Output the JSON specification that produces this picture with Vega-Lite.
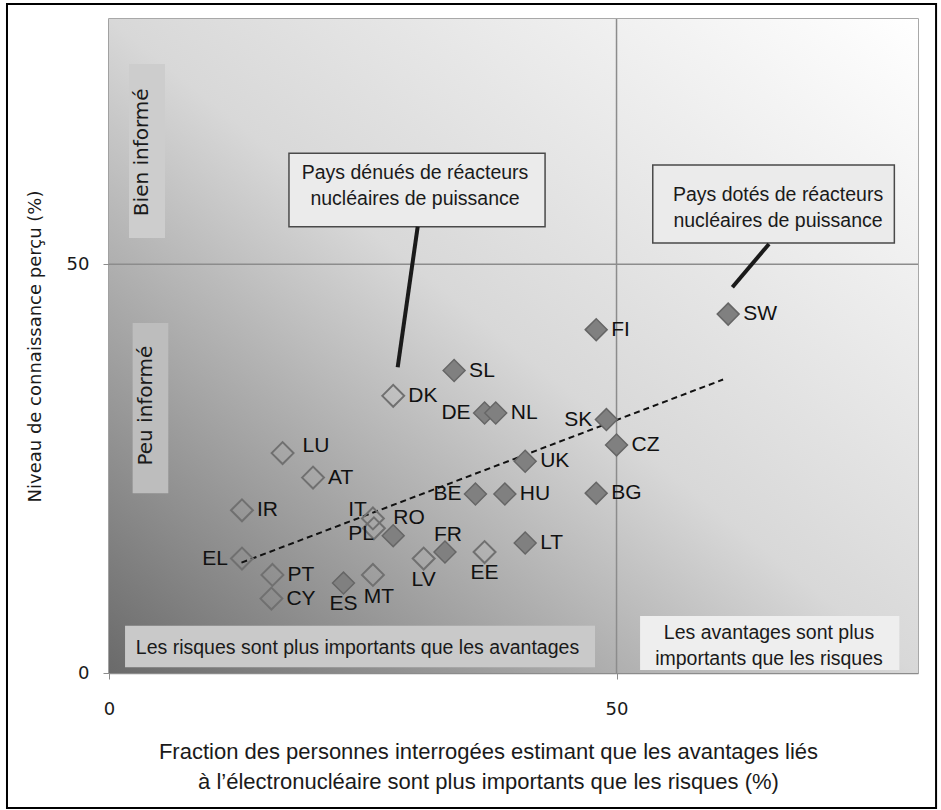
{
  "$schema": "https://vega.github.io/schema/vega-lite/v6.json",
  "width": 809,
  "height": 654,
  "autosize": {"type": "none"},
  "padding": {"left": 109, "top": 19, "right": 23, "bottom": 137},
  "background": "white",
  "config": {
    "view": {"stroke": "#8c8c8c", "strokeWidth": 1.5},
    "axis": {"grid": false, "labelFlush": false}
  },
  "datasets": {
    "countries": [
      {"c": "SL", "x": 34.0, "y": 37.0, "nuc": true},
      {"c": "DK", "x": 28.0, "y": 33.9, "nuc": false},
      {"c": "DE", "x": 37.0, "y": 31.8, "nuc": true},
      {"c": "NL", "x": 38.1, "y": 31.8, "nuc": true},
      {"c": "LU", "x": 17.1, "y": 26.9, "nuc": false},
      {"c": "AT", "x": 20.1, "y": 23.9, "nuc": false},
      {"c": "IR", "x": 13.1, "y": 19.9, "nuc": false},
      {"c": "IT", "x": 26.0, "y": 18.9, "nuc": false},
      {"c": "PL", "x": 26.1, "y": 17.7, "nuc": false},
      {"c": "RO", "x": 28.0, "y": 16.8, "nuc": true},
      {"c": "EL", "x": 13.1, "y": 14.0, "nuc": false},
      {"c": "PT", "x": 16.1, "y": 12.0, "nuc": false},
      {"c": "CY", "x": 16.0, "y": 9.1, "nuc": false},
      {"c": "ES", "x": 23.1, "y": 11.0, "nuc": true},
      {"c": "MT", "x": 26.0, "y": 12.0, "nuc": false},
      {"c": "LV", "x": 31.0, "y": 14.0, "nuc": false},
      {"c": "FR", "x": 33.1, "y": 14.8, "nuc": true},
      {"c": "EE", "x": 37.0, "y": 14.8, "nuc": false},
      {"c": "BE", "x": 36.1, "y": 21.9, "nuc": true},
      {"c": "HU", "x": 39.0, "y": 21.9, "nuc": true},
      {"c": "UK", "x": 41.0, "y": 25.9, "nuc": true},
      {"c": "LT", "x": 41.0, "y": 15.9, "nuc": true},
      {"c": "FI", "x": 48.0, "y": 42.0, "nuc": true},
      {"c": "SK", "x": 49.0, "y": 31.0, "nuc": true},
      {"c": "CZ", "x": 50.0, "y": 27.9, "nuc": true},
      {"c": "BG", "x": 48.0, "y": 22.0, "nuc": true},
      {"c": "SW", "x": 61.0, "y": 43.9, "nuc": true}
    ],
    "boxes": [
      {"id": "bien", "x": 1.97, "x2": 5.52, "y": 74.5, "y2": 53.2},
      {"id": "peu", "x": 2.33, "x2": 5.84, "y": 42.8, "y2": 22.0},
      {"id": "risques", "x": 1.58, "x2": 47.88, "y": 5.79, "y2": 0.71},
      {"id": "avantages", "x": 52.32, "x2": 77.86, "y": 6.97, "y2": 0.37}
    ],
    "callouts": [
      {"id": "sans", "x": 17.73, "x2": 42.96, "y": 63.57, "y2": 54.59},
      {"id": "avec", "x": 53.57, "x2": 77.37, "y": 62.14, "y2": 52.6}
    ],
    "leaders": [
      {"id": "sans", "x": 30.41, "y": 54.59, "x2": 28.44, "y2": 37.39},
      {"id": "avec", "x": 65.02, "y": 52.48, "x2": 61.41, "y2": 47.18}
    ],
    "trend": [
      {"x": 13.05, "y": 13.5},
      {"x": 60.5, "y": 35.9}
    ],
    "vtexts": [
      {"t": "Bien informé", "x": 3.3, "y": 63.7},
      {"t": "Peu informé", "x": 3.65, "y": 32.7}
    ],
    "htexts": [
      {"t": "Les risques sont plus importants que les avantages", "x": 24.48, "y": 3.02}
    ],
    "mtexts": [
      {"t": "Les avantages sont plus\nimportants que les risques", "x": 65.02, "y": 3.27},
      {"t": "Pays dénués de réacteurs\nnucléaires de puissance", "x": 30.15, "y": 59.57},
      {"t": "Pays dotés de réacteurs\nnucléaires de puissance", "x": 65.91, "y": 56.94}
    ]
  },
  "layer": [
    {
      "data": {"values": [{}]},
      "mark": {
        "type": "rect",
        "fill": {
          "gradient": "linear",
          "x1": 0, "y1": 1, "x2": 1, "y2": 0,
          "stops": [
            {"offset": 0, "color": "#6a6a6a"},
            {"offset": 0.5, "color": "#d8d8d8"},
            {"offset": 1, "color": "#ffffff"}
          ]
        }
      },
      "encoding": {
        "x": {
          "datum": 0, "type": "quantitative",
          "scale": {"domain": [0, 79.7], "nice": false, "zero": false},
          "axis": {
            "values": [0, 50],
            "title": ["Fraction des personnes interrogées estimant que les avantages liés", "à l’électronucléaire sont plus importants que les risques (%)"],
            "titleFont": "Liberation Sans", "titleFontSize": 22, "titleFontWeight": "normal",
            "titleColor": "#1a1a1a", "titleLineHeight": 30, "titlePadding": 23,
            "titleX": 379,
            "labelFont": "DejaVu Sans", "labelFontSize": 18, "labelColor": "#1a1a1a",
            "labelPadding": 21, "tickSize": 6, "tickColor": "#8c8c8c",
            "domainColor": "#8c8c8c", "domainWidth": 1.5
          }
        },
        "x2": {"datum": 79.7},
        "y": {
          "datum": 0, "type": "quantitative",
          "scale": {"domain": [0, 80], "nice": false, "zero": false},
          "axis": {
            "values": [0, 50],
            "title": "Niveau de connaissance perçu (%)",
            "titleFont": "DejaVu Sans", "titleFontSize": 18, "titleFontWeight": "normal",
            "titleColor": "#1a1a1a", "titlePadding": 22,
            "labelFont": "DejaVu Sans", "labelFontSize": 18, "labelColor": "#1a1a1a",
            "labelPadding": 14, "tickSize": 6, "tickColor": "#8c8c8c",
            "domainColor": "#8c8c8c", "domainWidth": 1.5
          }
        },
        "y2": {"datum": 80}
      }
    },
    {
      "data": {"values": [{"x": 50}]},
      "mark": {"type": "rule", "color": "#8c8c8c", "strokeWidth": 1.5},
      "encoding": {"x": {"field": "x", "type": "quantitative"}}
    },
    {
      "data": {"values": [{"y": 50}]},
      "mark": {"type": "rule", "color": "#8c8c8c", "strokeWidth": 1.5},
      "encoding": {"y": {"field": "y", "type": "quantitative"}}
    },
    {
      "data": {"name": "boxes"},
      "mark": {"type": "rect"},
      "encoding": {
        "x": {"field": "x", "type": "quantitative"},
        "x2": {"field": "x2"},
        "y": {"field": "y", "type": "quantitative"},
        "y2": {"field": "y2"},
        "fill": {
          "field": "id", "type": "nominal", "legend": null,
          "scale": {"domain": ["bien", "peu", "risques", "avantages"], "range": ["#cdcdcd", "#bdbdbd", "#c9c9c9", "#eeeeee"]}
        }
      }
    },
    {
      "data": {"name": "callouts"},
      "mark": {"type": "rect", "fill": "#ebebeb", "stroke": "#4a4a4a", "strokeWidth": 1.5},
      "encoding": {
        "x": {"field": "x", "type": "quantitative"},
        "x2": {"field": "x2"},
        "y": {"field": "y", "type": "quantitative"},
        "y2": {"field": "y2"}
      }
    },
    {
      "data": {"name": "leaders"},
      "mark": {"type": "rule", "color": "#1a1a1a", "strokeWidth": 4},
      "encoding": {
        "x": {"field": "x", "type": "quantitative"},
        "x2": {"field": "x2"},
        "y": {"field": "y", "type": "quantitative"},
        "y2": {"field": "y2"}
      }
    },
    {
      "data": {"name": "trend"},
      "mark": {"type": "line", "color": "#111111", "strokeWidth": 2, "strokeDash": [6, 4]},
      "encoding": {
        "x": {"field": "x", "type": "quantitative"},
        "y": {"field": "y", "type": "quantitative"}
      }
    },
    {
      "data": {"name": "countries"},
      "transform": [{"filter": "!datum.nuc"}],
      "mark": {"type": "point", "shape": "diamond", "size": 480, "filled": false, "stroke": "#707070", "strokeWidth": 2, "opacity": 1},
      "encoding": {
        "x": {"field": "x", "type": "quantitative"},
        "y": {"field": "y", "type": "quantitative"}
      }
    },
    {
      "data": {"name": "countries"},
      "transform": [{"filter": "datum.nuc"}],
      "mark": {"type": "point", "shape": "diamond", "size": 480, "filled": true, "fill": "#808080", "stroke": "#666666", "strokeWidth": 1.5, "opacity": 1},
      "encoding": {
        "x": {"field": "x", "type": "quantitative"},
        "y": {"field": "y", "type": "quantitative"}
      }
    },
    {
      "data": {"name": "countries"},
      "transform": [{"filter": {"field": "c", "oneOf": ["SL", "DK", "NL", "AT", "IR", "PT", "CY", "HU", "UK", "LT", "FI", "CZ", "BG", "SW"]}}],
      "mark": {"type": "text", "font": "Liberation Sans", "fontSize": 21, "color": "#111111", "align": "left", "baseline": "middle", "dx": 15},
      "encoding": {
        "x": {"field": "x", "type": "quantitative"},
        "y": {"field": "y", "type": "quantitative"},
        "text": {"field": "c"}
      }
    },
    {
      "data": {"name": "countries"},
      "transform": [{"filter": {"field": "c", "oneOf": ["DE", "EL", "BE", "SK"]}}],
      "mark": {"type": "text", "font": "Liberation Sans", "fontSize": 21, "color": "#111111", "align": "right", "baseline": "middle", "dx": -14},
      "encoding": {
        "x": {"field": "x", "type": "quantitative"},
        "y": {"field": "y", "type": "quantitative"},
        "text": {"field": "c"}
      }
    },
    {
      "data": {"name": "countries"},
      "transform": [{"filter": {"field": "c", "oneOf": ["ES", "LV", "EE"]}}],
      "mark": {"type": "text", "font": "Liberation Sans", "fontSize": 21, "color": "#111111", "align": "center", "baseline": "middle", "dy": 21},
      "encoding": {
        "x": {"field": "x", "type": "quantitative"},
        "y": {"field": "y", "type": "quantitative"},
        "text": {"field": "c"}
      }
    },
    {
      "data": {"name": "countries"},
      "transform": [{"filter": "datum.c == 'MT'"}],
      "mark": {"type": "text", "font": "Liberation Sans", "fontSize": 21, "color": "#111111", "align": "center", "baseline": "middle", "dx": 6, "dy": 22},
      "encoding": {
        "x": {"field": "x", "type": "quantitative"},
        "y": {"field": "y", "type": "quantitative"},
        "text": {"field": "c"}
      }
    },
    {
      "data": {"name": "countries"},
      "transform": [{"filter": "datum.c == 'FR'"}],
      "mark": {"type": "text", "font": "Liberation Sans", "fontSize": 21, "color": "#111111", "align": "center", "baseline": "middle", "dx": 3, "dy": -17},
      "encoding": {
        "x": {"field": "x", "type": "quantitative"},
        "y": {"field": "y", "type": "quantitative"},
        "text": {"field": "c"}
      }
    },
    {
      "data": {"name": "countries"},
      "transform": [{"filter": "datum.c == 'RO'"}],
      "mark": {"type": "text", "font": "Liberation Sans", "fontSize": 21, "color": "#111111", "align": "left", "baseline": "middle", "dx": 0, "dy": -18},
      "encoding": {
        "x": {"field": "x", "type": "quantitative"},
        "y": {"field": "y", "type": "quantitative"},
        "text": {"field": "c"}
      }
    },
    {
      "data": {"name": "countries"},
      "transform": [{"filter": "datum.c == 'IT'"}],
      "mark": {"type": "text", "font": "Liberation Sans", "fontSize": 21, "color": "#111111", "align": "right", "baseline": "middle", "dx": -6, "dy": -8},
      "encoding": {
        "x": {"field": "x", "type": "quantitative"},
        "y": {"field": "y", "type": "quantitative"},
        "text": {"field": "c"}
      }
    },
    {
      "data": {"name": "countries"},
      "transform": [{"filter": "datum.c == 'PL'"}],
      "mark": {"type": "text", "font": "Liberation Sans", "fontSize": 21, "color": "#111111", "align": "right", "baseline": "middle", "dx": 0, "dy": 6},
      "encoding": {
        "x": {"field": "x", "type": "quantitative"},
        "y": {"field": "y", "type": "quantitative"},
        "text": {"field": "c"}
      }
    },
    {
      "data": {"name": "countries"},
      "transform": [{"filter": "datum.c == 'LU'"}],
      "mark": {"type": "text", "font": "Liberation Sans", "fontSize": 21, "color": "#111111", "align": "left", "baseline": "middle", "dx": 20, "dy": -7},
      "encoding": {
        "x": {"field": "x", "type": "quantitative"},
        "y": {"field": "y", "type": "quantitative"},
        "text": {"field": "c"}
      }
    },
    {
      "data": {"name": "vtexts"},
      "mark": {"type": "text", "font": "DejaVu Sans", "fontSize": 20, "color": "#1a1a1a", "angle": 270, "align": "center", "baseline": "middle"},
      "encoding": {
        "x": {"field": "x", "type": "quantitative"},
        "y": {"field": "y", "type": "quantitative"},
        "text": {"field": "t"}
      }
    },
    {
      "data": {"name": "htexts"},
      "mark": {"type": "text", "font": "Liberation Sans", "fontSize": 19.5, "color": "#1a1a1a", "align": "center", "baseline": "middle"},
      "encoding": {
        "x": {"field": "x", "type": "quantitative"},
        "y": {"field": "y", "type": "quantitative"},
        "text": {"field": "t"}
      }
    },
    {
      "data": {"name": "mtexts"},
      "mark": {"type": "text", "font": "Liberation Sans", "fontSize": 19.5, "color": "#1a1a1a", "align": "center", "baseline": "middle", "lineBreak": "\n", "lineHeight": 26, "dy": -13},
      "encoding": {
        "x": {"field": "x", "type": "quantitative"},
        "y": {"field": "y", "type": "quantitative"},
        "text": {"field": "t"}
      }
    },
    {
      "data": {"values": [{}]},
      "mark": {"type": "rect", "filled": false, "fill": null, "stroke": "#000000", "strokeWidth": 2, "clip": false},
      "encoding": {
        "x": {"datum": -10.05, "type": "quantitative"},
        "x2": {"datum": 81.48},
        "y": {"datum": 81.83, "type": "quantitative"},
        "y2": {"datum": -16.51}
      }
    }
  ]
}
